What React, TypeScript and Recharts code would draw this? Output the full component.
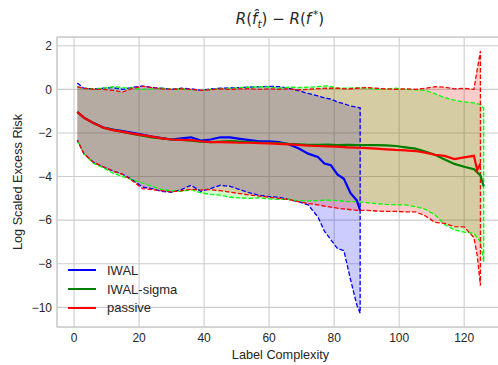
import React from 'react';
import { ComposedChart, Area, Line, XAxis, YAxis, CartesianGrid, ReferenceArea, Label } from 'recharts';

// label complexity (x) per algorithm
const iwalX = [1, 3, 6, 9, 12, 15, 18, 21, 24, 27, 30, 33, 36, 39, 42, 45, 48, 51, 54, 57, 60, 63, 66, 69, 72, 75, 77, 79, 81, 83, 85, 87, 88];
const iwalMean = [-1.04, -1.3, -1.55, -1.75, -1.85, -1.92, -2.0, -2.08, -2.17, -2.24, -2.3, -2.25, -2.2, -2.35, -2.3, -2.2, -2.2, -2.27, -2.33, -2.38, -2.38, -2.42, -2.52, -2.7, -2.95, -3.1, -3.4, -3.48, -3.9, -4.1, -4.75, -5.1, -5.55];
const iwalUpper = [0.29, 0.05, 0.02, 0.05, 0.08, 0.0, 0.1, 0.15, 0.08, 0.05, 0.0, 0.05, 0.02, -0.05, 0.02, 0.05, 0.07, 0.08, 0.1, 0.12, 0.14, 0.12, 0.05, -0.06, -0.19, -0.3, -0.39, -0.45, -0.58, -0.66, -0.76, -0.82, -0.85];
const iwalLower = [-2.33, -2.95, -3.35, -3.56, -3.75, -3.9, -4.15, -4.48, -4.55, -4.68, -4.72, -4.6, -4.4, -4.68, -4.55, -4.4, -4.45, -4.6, -4.75, -4.86, -4.92, -4.95, -5.05, -5.15, -5.3, -5.85, -6.5, -6.9, -7.3, -7.4, -8.7, -9.9, -10.27];

const sigmaX = [1, 3, 6, 9, 12, 15, 18, 21, 24, 27, 30, 33, 36, 39, 42, 45, 48, 51, 54, 57, 60, 63, 66, 69, 72, 75, 78, 81, 84, 87, 90, 93, 96, 99, 102, 105, 108, 111, 114, 117, 120, 123, 125, 126];
const sigmaMean = [-1.04, -1.3, -1.55, -1.76, -1.86, -1.95, -2.05, -2.13, -2.2, -2.25, -2.3, -2.32, -2.35, -2.4, -2.42, -2.4, -2.38, -2.4, -2.42, -2.44, -2.45, -2.47, -2.5, -2.52, -2.55, -2.55, -2.54, -2.56, -2.55, -2.56, -2.56, -2.56, -2.57, -2.6, -2.66, -2.72, -2.85, -3.0, -3.22, -3.42, -3.55, -3.66, -3.95, -4.45];
const sigmaUpper = [0.11, 0.05, 0.0, 0.05, 0.12, 0.08, 0.05, 0.0, 0.02, 0.05, 0.0, 0.02, -0.02, -0.05, 0.0, 0.03, 0.05, 0.08, 0.1, 0.12, 0.1, 0.05, 0.1, 0.08, 0.1, 0.12, 0.16, 0.05, 0.05, 0.08, 0.05, 0.0, 0.02, 0.05, 0.0, -0.02, -0.05, -0.2, -0.38, -0.5, -0.58, -0.62, -0.7, -0.87];
const sigmaLower = [-2.33, -2.95, -3.4, -3.6, -3.85, -4.0, -4.15, -4.3, -4.45, -4.6, -4.65, -4.68, -4.6, -4.75, -4.82, -4.85, -4.95, -4.98, -5.0, -4.98, -5.02, -5.05, -5.05, -5.1, -5.12, -5.1, -5.08, -5.1, -5.15, -5.15, -5.2, -5.24, -5.28, -5.3, -5.3, -5.38, -5.5, -5.75, -6.2, -6.45, -6.55, -6.6, -7.0, -7.92];

const passiveX = [1, 3, 6, 9, 12, 15, 18, 21, 24, 27, 30, 33, 36, 39, 42, 45, 48, 51, 54, 57, 60, 63, 66, 69, 72, 75, 78, 81, 84, 87, 90, 93, 96, 99, 102, 105, 108, 111, 114, 117, 120, 123, 124, 125];
const passiveMean = [-1.04, -1.3, -1.55, -1.76, -1.87, -1.95, -2.03, -2.1, -2.17, -2.25, -2.3, -2.32, -2.33, -2.38, -2.42, -2.42, -2.43, -2.45, -2.45, -2.47, -2.48, -2.5, -2.52, -2.55, -2.58, -2.6, -2.62, -2.63, -2.66, -2.68, -2.7, -2.72, -2.75, -2.78, -2.8, -2.83, -2.9, -3.0, -3.05, -3.2, -3.12, -3.05, -3.7, -3.4];
const passiveUpper = [0.11, 0.05, 0.0, 0.0, -0.05, -0.12, 0.05, 0.15, 0.08, 0.02, 0.0, 0.02, 0.0, -0.05, -0.02, 0.02, 0.0, 0.02, 0.03, 0.0, 0.02, 0.0, 0.02, -0.02, 0.0, 0.03, 0.05, 0.05, 0.02, 0.05, 0.08, 0.05, 0.02, 0.0, 0.02, 0.0, 0.05, 0.12, 0.1, 0.02, 0.05, 0.0, 0.9, 1.76];
const passiveLower = [-2.33, -2.95, -3.35, -3.55, -3.75, -3.9, -4.2, -4.55, -4.6, -4.65, -4.7, -4.65, -4.58, -4.62, -4.6, -4.65, -4.72, -4.78, -4.85, -4.9, -4.95, -5.0, -5.05, -5.15, -5.24, -5.3, -5.38, -5.45, -5.5, -5.55, -5.55, -5.58, -5.6, -5.6, -5.62, -5.62, -5.8, -6.1, -6.15, -6.3, -6.31, -6.8, -7.6, -9.0];

const xTicks = [0, 20, 40, 60, 80, 100, 120];
const yTicks = [-10, -8, -6, -4, -2, 0, 2];
const X_DOMAIN: [number, number] = [-5.25, 132.25];
const Y_DOMAIN: [number, number] = [-10.9, 2.4];

const legendItems = [
  { name: 'IWAL', color: '#0000ff' },
  { name: 'IWAL-sigma', color: '#008000' },
  { name: 'passive', color: '#ff0000' },
];

const toRows = (xs: number[], mean: number[], upper: number[], lower: number[]) =>
  xs.map((x, i) => ({ x, mean: mean[i], band: [lower[i], upper[i]] }));

// upper bound forwards, then lower bound backwards (gives the closing edge at the last x)
const toOutline = (xs: number[], upper: number[], lower: number[]) => [
  ...xs.map((x, i) => ({ x, y: upper[i] })),
  ...xs.map((x, i) => ({ x, y: lower[i] })).reverse(),
];

const iwalRows = toRows(iwalX, iwalMean, iwalUpper, iwalLower);
const sigmaRows = toRows(sigmaX, sigmaMean, sigmaUpper, sigmaLower);
const passiveRows = toRows(passiveX, passiveMean, passiveUpper, passiveLower);

const FONT = '"Liberation Sans", Arial, sans-serif';
const TEXT = '#262626';
const GRID = '#cccccc';
const DASH = '4.5 2';

const minus = (v: number) => (v < 0 ? '\u2212' + Math.abs(v) : String(v));

export default function App() {
  const tick = { fontFamily: FONT, fontSize: 12, fill: TEXT };
  return (
    <div style={{ position: 'absolute', left: 0, top: 0, width: 498, height: 365, overflow: 'hidden', background: '#fff' }}>
      <div
        style={{
          position: 'absolute', left: 280, top: 9, transform: 'translateX(-50%)',
          fontFamily: '"DejaVu Sans", sans-serif', fontSize: 15, color: TEXT, whiteSpace: 'nowrap', lineHeight: '20px',
        }}
      >
        <i>R</i>(<i>f&#770;</i><span style={{ fontSize: 10.5, position: 'relative', top: 4 }}><i>t</i></span>)
        {' \u2212 '}
        <i>R</i>(<i>f</i><span style={{ fontSize: 10.5, position: 'relative', top: -6, marginLeft: 2 }}>*</span>)
      </div>
      <ComposedChart width={504} height={365} margin={{ top: 37, right: 0, bottom: 0, left: 0 }}>
        <CartesianGrid stroke={GRID} strokeWidth={1.1} />
        <XAxis
          type="number" dataKey="x" domain={X_DOMAIN} ticks={xTicks} allowDataOverflow
          height={38} axisLine={false} tickLine={false} tickSize={0} tickMargin={6} tick={tick}
        >
          <Label value="Label Complexity" position="insideBottom" offset={6}
            style={{ fontFamily: FONT, fontSize: 12.7, fill: TEXT }} />
        </XAxis>
        <YAxis
          type="number" domain={Y_DOMAIN} ticks={yTicks} allowDataOverflow width={57}
          axisLine={false} tickLine={false} tickSize={0} tickMargin={5} tick={tick} tickFormatter={minus}
        >
          <Label
            content={({ viewBox }: any) => (
              <text
                x={18} y={viewBox.y + viewBox.height / 2} transform={`rotate(-90, 18, ${viewBox.y + viewBox.height / 2})`}
                textAnchor="middle" dominantBaseline="central" fontFamily={FONT} fontSize={12.7} fill={TEXT}
              >
                Log Scaled Excess Risk
              </text>
            )}
          />
        </YAxis>

        <Area data={iwalRows} dataKey="band" type="linear" stroke="none" fill="#0000ff" fillOpacity={0.2} isAnimationActive={false} activeDot={false} />
        <Area data={sigmaRows} dataKey="band" type="linear" stroke="none" fill="#00ff00" fillOpacity={0.2} isAnimationActive={false} activeDot={false} />
        <Area data={passiveRows} dataKey="band" type="linear" stroke="none" fill="#ff0000" fillOpacity={0.2} isAnimationActive={false} activeDot={false} />

        <Line data={toOutline(iwalX, iwalUpper, iwalLower)} dataKey="y" type="linear" stroke="#0000ff" strokeWidth={1.3} strokeDasharray={DASH} dot={false} activeDot={false} isAnimationActive={false} />
        <Line data={toOutline(sigmaX, sigmaUpper, sigmaLower)} dataKey="y" type="linear" stroke="#00ff00" strokeWidth={1.3} strokeDasharray={DASH} dot={false} activeDot={false} isAnimationActive={false} />
        <Line data={toOutline(passiveX, passiveUpper, passiveLower)} dataKey="y" type="linear" stroke="#ff0000" strokeWidth={1.3} strokeDasharray={DASH} dot={false} activeDot={false} isAnimationActive={false} />

        <Line data={iwalRows} dataKey="mean" name="IWAL" type="linear" stroke="#0000ff" strokeWidth={2.2} dot={false} activeDot={false} isAnimationActive={false} />
        <Line data={sigmaRows} dataKey="mean" name="IWAL-sigma" type="linear" stroke="#008000" strokeWidth={2.2} dot={false} activeDot={false} isAnimationActive={false} />
        <Line data={passiveRows} dataKey="mean" name="passive" type="linear" stroke="#ff0000" strokeWidth={2.2} dot={false} activeDot={false} isAnimationActive={false} />

        <ReferenceArea x1={X_DOMAIN[0]} x2={X_DOMAIN[1]} y1={Y_DOMAIN[0]} y2={Y_DOMAIN[1]} fill="none" stroke={GRID} strokeWidth={1.25} ifOverflow="visible" />
      </ComposedChart>
      <div style={{ position: 'absolute', left: 68, top: 261, fontFamily: FONT, fontSize: 13, color: TEXT }}>
        {legendItems.map((it) => (
          <div key={it.name} style={{ display: 'flex', alignItems: 'center', height: 18.8 }}>
            <span style={{ display: 'inline-block', width: 28, height: 2, background: it.color }} />
            <span style={{ marginLeft: 11 }}>{it.name}</span>
          </div>
        ))}
      </div>
    </div>
  );
}
